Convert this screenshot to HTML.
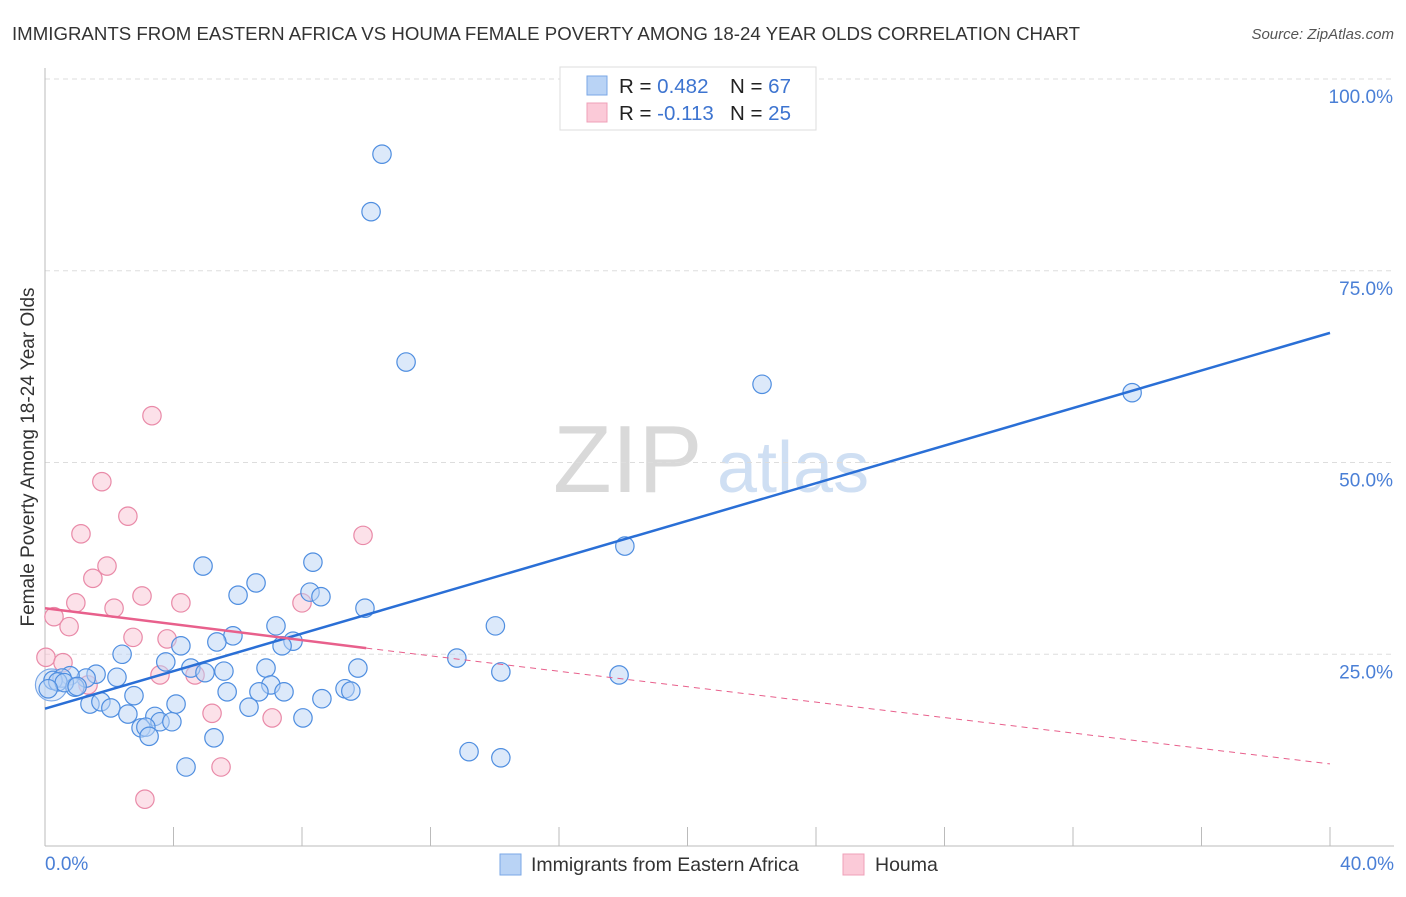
<!DOCTYPE html>
<html><head><meta charset="utf-8">
<style>
body{margin:0;background:#fff;font-family:"Liberation Sans",sans-serif;}
svg text{font-family:"Liberation Sans",sans-serif;}
</style></head>
<body>
<svg id="chart" width="1406" height="892" viewBox="0 0 1406 892" xmlns="http://www.w3.org/2000/svg">
<text x="12" y="40" font-size="18.5" fill="#333" textLength="1068" lengthAdjust="spacingAndGlyphs">IMMIGRANTS FROM EASTERN AFRICA VS HOUMA FEMALE POVERTY AMONG 18-24 YEAR OLDS CORRELATION CHART</text>
<text x="1394" y="39" font-size="15" fill="#555" font-style="italic" text-anchor="end">Source: ZipAtlas.com</text>
<g>
<text x="553" y="492" font-size="96" fill="#d9d9d9" font-family="Liberation Serif">ZIP</text>
<text x="717" y="492" font-size="72" fill="#cfdff3">atlas</text>
</g>
<g id="grid"></g>
<g id="axes"></g>
<g id="lines"></g>
<g id="pts"></g>
<g>
<rect x="560" y="67" width="256" height="63" fill="#fff" stroke="#ddd"/>
<rect x="587" y="76" width="20" height="19" fill="#b9d3f5" stroke="#7aa7e6"/>
<rect x="587" y="103" width="20" height="19" fill="#fbcad8" stroke="#efa0b8"/>
<text x="619" y="93" font-size="20.5" fill="#222">R = <tspan fill="#3d74d0">0.482</tspan></text>
<text x="730" y="93" font-size="20.5" fill="#222">N = <tspan fill="#3d74d0">67</tspan></text>
<text x="619" y="120" font-size="20.5" fill="#222">R = <tspan fill="#3d74d0">-0.113</tspan></text>
<text x="730" y="120" font-size="20.5" fill="#222">N = <tspan fill="#3d74d0">25</tspan></text>
</g>
<g>
<rect x="500" y="854" width="21" height="21" fill="#b9d3f5" stroke="#7aa7e6"/>
<text x="531" y="871" font-size="19.5" fill="#333">Immigrants from Eastern Africa</text>
<rect x="843" y="854" width="21" height="21" fill="#fbcad8" stroke="#efa0b8"/>
<text x="875" y="871" font-size="19.5" fill="#333">Houma</text>
</g>
<text transform="translate(34,457) rotate(-90)" font-size="19" fill="#333" text-anchor="middle">Female Poverty Among 18-24 Year Olds</text>
</svg>
<script>
const blueX=[10.49,10.15,11.24,22.32,33.84,18.05,8.34,4.92,6.57,6.01,8.25,8.59,9.96,7.19,14.02,5.85,5.35,7.72,7.38,4.23,2.40,12.82,3.76,9.74,6.88,4.54,5.57,4.98,14.19,17.87,1.59,2.24,1.28,0.78,0.53,0.25,0.40,0.93,7.03,6.66,7.44,5.67,9.34,9.52,2.77,8.62,1.40,1.74,2.05,4.08,6.35,2.58,3.42,3.58,3.95,8.03,2.99,3.14,3.24,5.26,13.20,14.19,4.39,0.6,1.0,0.1];
const blueY=[90.2,82.7,63.1,60.2,59.1,39.1,37.0,36.5,34.3,32.7,33.1,32.5,31.0,28.7,28.7,27.4,26.6,26.7,26.1,26.1,25.0,24.5,24.0,23.2,23.2,23.2,22.8,22.6,22.7,22.3,22.4,22.0,21.9,22.2,21.9,21.6,21.4,20.7,21.0,20.1,20.1,20.1,20.5,20.2,19.6,19.2,18.5,18.8,18.0,18.5,18.1,17.2,16.9,16.2,16.2,16.7,15.4,15.5,14.3,14.1,12.3,11.5,10.3,21.3,20.8,20.5];
const bigBlueX=[0.2];
const bigBlueY=[21.0];
const pinkX=[3.33,1.77,2.58,1.12,9.90,1.93,1.49,3.02,0.96,4.23,8.00,2.15,0.28,0.75,2.74,3.80,0.03,0.56,4.67,3.58,1.34,5.20,7.07,5.48,3.11];
const pinkY=[56.1,47.5,43.0,40.7,40.5,36.5,34.9,32.6,31.7,31.7,31.7,31.0,29.9,28.6,27.2,27.0,24.6,23.9,22.3,22.3,21.0,17.3,16.7,10.3,6.1];
const blueTrendX=[0,40];
const blueTrendY=[17.9,66.9];
const pinkTrendX=[0,10,40];
const pinkTrendY=[31.0,25.8,10.7];
const yTicks=[25,50,75,100];
const yTickLabels=["25.0%","50.0%","75.0%","100.0%"];
const xTicks=[0,4,8,12,16,20,24,28,32,36,40];
const NS="http://www.w3.org/2000/svg";
const X=v=>45+v*32.125;
const Y=v=>846-v*7.67;
function mk(tag,attrs,parent){const e=document.createElementNS(NS,tag);for(const k in attrs)e.setAttribute(k,attrs[k]);parent.appendChild(e);return e;}
const grid=document.getElementById('grid'),axes=document.getElementById('axes'),lines=document.getElementById('lines'),pts=document.getElementById('pts');
yTicks.forEach((t,i)=>{
 const l=mk('line',{x1:45,x2:1394,y1:Y(t),y2:Y(t),stroke:'#ddd','stroke-dasharray':'5,4'},grid);
 
 
 const tx=mk('text',{x:1393,y:Y(t)+24,'font-size':19,fill:'#4a7fd6','text-anchor':'end'},axes);
 tx.textContent=yTickLabels[i];
 
 
});
const ya=mk('line',{x1:45,x2:45,y1:68,y2:846,stroke:'#bbb'},axes);


const xa=mk('line',{x1:45,x2:1394,y1:846,y2:846,stroke:'#bbb'},axes);


xTicks.forEach(t=>{
 const l=mk('line',{x1:X(t),x2:X(t),y1:827,y2:846,stroke:'#bbb'},axes);
 
 
});
[[0,'0.0%','start',45],[40,'40.0%','end',1394]].forEach(a=>{
 const tx=mk('text',{x:a[3],y:870,'font-size':19,fill:'#4a7fd6','text-anchor':a[2]},axes);
 tx.textContent=a[1];
 
 
});
function dot(x,y,fill,stroke,name,r,op){
 const c=mk('circle',{cx:X(x),cy:Y(y),r:r,fill:fill,'fill-opacity':op,stroke:stroke,'stroke-width':1.2},pts);
 
 
}
pinkX.forEach((x,i)=>dot(x,pinkY[i],'#f9c3d3','#e98aa8','houma-point',9.2,0.5));
bigBlueX.forEach((x,i)=>dot(x,bigBlueY[i],'#b9d3f5','#7aa7e6','eastern-africa-large-point',16,0.4));
blueX.forEach((x,i)=>dot(x,blueY[i],'#b9d3f5','#4f8ee0','eastern-africa-point',9.2,0.5));
const bl=mk('line',{x1:X(blueTrendX[0]),y1:Y(blueTrendY[0]),x2:X(blueTrendX[1]),y2:Y(blueTrendY[1]),stroke:'#2a6fd6','stroke-width':2.5},lines);


const ps=mk('line',{x1:X(pinkTrendX[0]),y1:Y(pinkTrendY[0]),x2:X(pinkTrendX[1]),y2:Y(pinkTrendY[1]),stroke:'#e8608c','stroke-width':2.5},lines);


const pd=mk('line',{x1:X(pinkTrendX[1]),y1:Y(pinkTrendY[1]),x2:X(pinkTrendX[2]),y2:Y(pinkTrendY[2]),stroke:'#e8608c','stroke-width':1,'stroke-dasharray':'6,5'},lines);


document.getElementById('chart').appendChild(lines);
</script>
</body></html>
